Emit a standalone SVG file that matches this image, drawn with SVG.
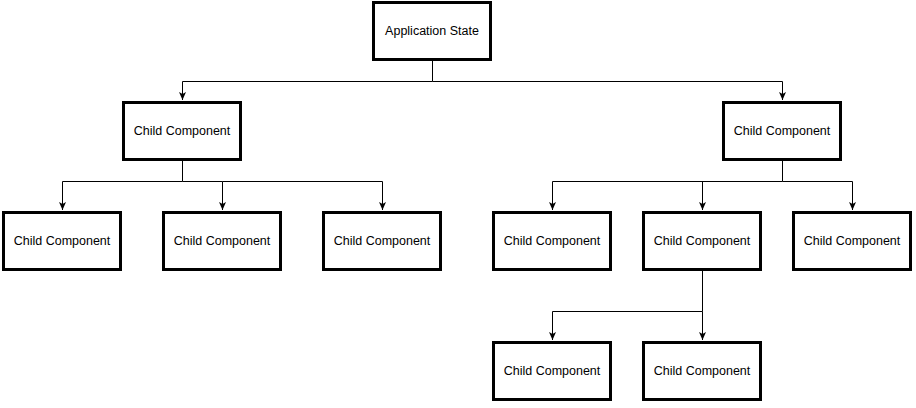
<svg xmlns="http://www.w3.org/2000/svg" width="916" height="408" viewBox="0 0 916 408">
<defs>
<style>
.n rect{fill:#fff;stroke:#000;stroke-width:3}
.n text{font-family:"Liberation Sans",Arial,Helvetica,sans-serif;font-size:12.5px;fill:#000;text-anchor:middle;dominant-baseline:central}
.e path{fill:none;stroke:#000;stroke-width:1}
</style>
<marker id="ah" viewBox="0 0 8 8" refX="8" refY="4" markerWidth="8" markerHeight="8" markerUnits="userSpaceOnUse" orient="auto">
<path d="M0,0.5 L8,4 L0,7.5 L2,4 Z" fill="#000"/>
</marker>
</defs>
<rect width="916" height="408" fill="#fff"/>
<g class="e" id="connectors">
<path d="M432.5,61 V81.5 H182.5 V100" marker-end="url(#ah)"/>
<path d="M432.5,81.5 H782.5 V100" marker-end="url(#ah)"/>
<path d="M182.5,161 V181.5 H62.5 V210" marker-end="url(#ah)"/>
<path d="M182.5,181.5 H222.5 V210" marker-end="url(#ah)"/>
<path d="M222.5,181.5 H382.5 V210" marker-end="url(#ah)"/>
<path d="M782.5,161 V181.5 H552.5 V210" marker-end="url(#ah)"/>
<path d="M702.5,181.5 V210" marker-end="url(#ah)"/>
<path d="M782.5,181.5 H852.5 V210" marker-end="url(#ah)"/>
<path d="M702.5,271 V311.5 H552.5 V340" marker-end="url(#ah)"/>
<path d="M702.5,311.5 V340" marker-end="url(#ah)"/>
</g>
<g class="n" id="app-state"><rect x="373.5" y="2.5" width="117" height="57"/><text x="432" y="31">Application State</text></g>
<g class="n" id="child-l"><rect x="123.5" y="102.5" width="117" height="57"/><text x="182" y="131">Child Component</text></g>
<g class="n" id="child-r"><rect x="723.5" y="102.5" width="117" height="57"/><text x="782" y="131">Child Component</text></g>
<g class="n" id="child-l1"><rect x="3.5" y="212.5" width="117" height="57"/><text x="62" y="241">Child Component</text></g>
<g class="n" id="child-l2"><rect x="163.5" y="212.5" width="117" height="57"/><text x="222" y="241">Child Component</text></g>
<g class="n" id="child-l3"><rect x="323.5" y="212.5" width="117" height="57"/><text x="382" y="241">Child Component</text></g>
<g class="n" id="child-r1"><rect x="493.5" y="212.5" width="117" height="57"/><text x="552" y="241">Child Component</text></g>
<g class="n" id="child-r2"><rect x="643.5" y="212.5" width="117" height="57"/><text x="702" y="241">Child Component</text></g>
<g class="n" id="child-r3"><rect x="793.5" y="212.5" width="117" height="57"/><text x="852" y="241">Child Component</text></g>
<g class="n" id="child-r2a"><rect x="493.5" y="342.5" width="117" height="57"/><text x="552" y="371">Child Component</text></g>
<g class="n" id="child-r2b"><rect x="643.5" y="342.5" width="117" height="57"/><text x="702" y="371">Child Component</text></g>
</svg>
